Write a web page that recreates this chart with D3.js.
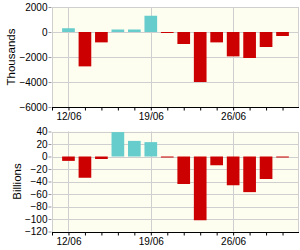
<!DOCTYPE html>
<html lang="en">
<head>
    <meta charset="utf-8">
    <title>Daily flows</title>
    <script src="https://d3js.org/d3.v7.min.js"></script>
    <style>
        body { margin: 0; background: #fff; }
        svg { display: block; font-family: Arial, "Liberation Sans", sans-serif; }
        .tick text { font-size: 10px; fill: #000; }
        .ylab { font-size: 11.5px; fill: #000; }
    </style>
</head>
<body>
    <div id="chart"></div>
    <script>
        // business days shown on both panels
        var days = ["12/06", "13/06", "14/06", "15/06", "16/06",
                    "19/06", "20/06", "21/06", "22/06", "23/06",
                    "26/06", "27/06", "28/06", "29/06"];
        var labelDays = ["12/06", "19/06", "26/06"];

        // top panel, thousands
        var thousands = [300, -2750, -830, 200, 200, 1300, -60, -960, -4000, -830, -1950, -2080, -1200, -320];
        var thousandsTicks = [-6000, -4000, -2000, 0, 2000];

        // bottom panel, billions
        var billions = [-7, -34, -4, 39, 25, 23, -1, -44, -102, -14, -46, -57, -36, -1];
        var billionsTicks = [-120, -100, -80, -60, -40, -20, 0, 20, 40];

        var W = 300, H = 250;
        var left = 52, right = 299;

        var svg = d3.select("#chart").append("svg")
            .attr("width", W).attr("height", H);

        var x = d3.scalePoint().domain(days).range([left, right]).padding(1);
        var step = x.step();
        var barW = step * 0.77;

        function panel(values, ticks, top, bottom, label, labelX) {
            var y = d3.scaleLinear()
                .domain([ticks[0], ticks[ticks.length - 1]])
                .range([bottom, top]);

            var g = svg.append("g");

            g.append("rect")
                .attr("x", left).attr("y", top)
                .attr("width", right - left).attr("height", bottom - top)
                .attr("fill", "#fefef0");

            // horizontal grid
            g.selectAll(".hgrid").data(ticks).enter().append("line")
                .attr("x1", left).attr("x2", right)
                .attr("y1", d => Math.round(y(d)) + 0.5)
                .attr("y2", d => Math.round(y(d)) + 0.5)
                .attr("stroke", "#cfcfcf");

            // vertical grid at week starts
            g.selectAll(".vgrid").data(labelDays).enter().append("line")
                .attr("x1", d => Math.round(x(d)) + 0.5)
                .attr("x2", d => Math.round(x(d)) + 0.5)
                .attr("y1", top).attr("y2", bottom)
                .attr("stroke", "#cfcfcf");

            // border
            g.append("rect")
                .attr("x", left + 0.5).attr("y", Math.round(top) + 0.5)
                .attr("width", right - left - 1).attr("height", Math.round(bottom - top))
                .attr("fill", "none").attr("stroke", "#cfcfcf");

            g.selectAll(".bar").data(values).enter().append("rect")
                .attr("x", (d, i) => x(days[i]) - barW / 2)
                .attr("width", barW)
                .attr("y", d => y(Math.max(0, d)))
                .attr("height", d => Math.max(1, Math.abs(y(d) - y(0))))
                .attr("fill", d => d >= 0 ? "#66cccc" : "#cc0000");

            // y axis
            var ya = d3.axisLeft(y).tickValues(ticks).tickSize(3).tickPadding(1)
                .tickFormat(d3.format("d"));
            var yg = g.append("g")
                .attr("transform", "translate(" + (left - 0.5) + ",0)")
                .call(ya);
            yg.select(".domain").remove();
            yg.selectAll(".tick line").attr("stroke", "#999");

            // x axis: tick at every business day, labels on mondays
            var xa = d3.axisBottom(x).tickSize(3).tickPadding(2)
                .tickFormat(d => labelDays.indexOf(d) >= 0 ? d : "");
            var xg = g.append("g")
                .attr("transform", "translate(0," + (Math.round(bottom) + 0.5) + ")")
                .call(xa);
            xg.select(".domain").attr("d", "M" + left + ",0H" + right).attr("stroke", "#000");
            xg.append("line")
                .attr("x1", left + 0.5).attr("x2", left + 0.5)
                .attr("y1", 0).attr("y2", 3).attr("stroke", "#000");
            xg.selectAll(".tick line").attr("stroke", "#000");

            svg.append("text")
                .attr("class", "ylab")
                .attr("transform", "translate(" + labelX + "," + ((top + bottom) / 2) + ") rotate(-90)")
                .attr("text-anchor", "middle")
                .attr("dy", "0.35em")
                .text(label);
        }

        panel(thousands, thousandsTicks, 7, 107, "Thousands", 11);
        panel(billions, billionsTicks, 131.5, 231.5, "Billions", 17);
    </script>
</body>
</html>
